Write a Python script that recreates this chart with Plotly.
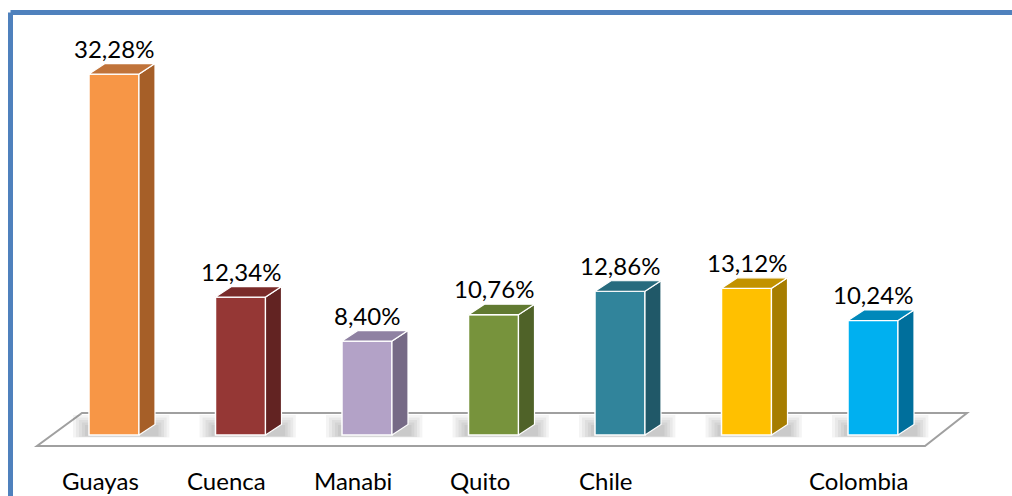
import plotly.graph_objects as go

# data
categorias = ["Guayas", "Cuenca", "Manabi", "Quito", "Chile", "", "Colombia"]
valores = [32.28, 12.34, 8.40, 10.76, 12.86, 13.12, 10.24]
etiquetas = ["32,28%", "12,34%", "8,40%", "10,76%", "12,86%", "13,12%", "10,24%"]
color_frente = ["#F79646", "#953735", "#B3A2C7", "#77933C", "#31849B", "#FFC000", "#00B0F0"]
color_lado = ["#A65F28", "#622322", "#766A86", "#4F6228", "#205868", "#A67D00", "#006F9C"]
color_tapa = ["#C0733A", "#7A2B2A", "#8F81A2", "#617A31", "#276B7E", "#C29200", "#0088BA"]

W, H = 1012, 496
px_x = 126.5          # px per category
px_y = 11.18          # px per percent
x0_px, y0_px = 114, 435

ancho = 50 / px_x     # front face width
dx = 16 / px_x        # depth offset
dy = 10.5 / px_y

x = list(range(len(valores)))

fig = go.Figure()

# front faces
fig.add_trace(go.Bar(
    x=x, y=valores, width=ancho,
    marker=dict(color=color_frente, line=dict(color="white", width=1.5)),
    hoverinfo="skip",
))

# side and top faces
for i, v in enumerate(valores):
    xr = i + ancho / 2
    xl = i - ancho / 2
    fig.add_trace(go.Scatter(
        x=[xr, xr + dx, xr + dx, xr, xr], y=[0, dy, v + dy, v, 0],
        fill="toself", fillcolor=color_lado[i], mode="lines",
        line=dict(color="white", width=1.2), hoverinfo="skip",
    ))
    fig.add_trace(go.Scatter(
        x=[xl, xr, xr + dx, xl + dx, xl], y=[v, v, v + dy, v + dy, v],
        fill="toself", fillcolor=color_tapa[i], mode="lines",
        line=dict(color="white", width=1.2), hoverinfo="skip",
    ))

# floor
fy0 = (y0_px - 446) / px_y
fy1 = (y0_px - 413) / px_y
fx = [(p - x0_px) / px_x for p in (37, 925, 967, 82)]
fig.add_shape(
    type="path",
    path=f"M {fx[0]},{fy0} L {fx[1]},{fy0} L {fx[2]},{fy1} L {fx[3]},{fy1} Z",
    xref="x", yref="y", layer="below",
    line=dict(color="#A0A0A0", width=2), fillcolor="white",
)

# soft shadows on the floor
for i in x:
    for k in range(5):
        ex = (16 - 3 * k) / px_x
        fig.add_shape(
            type="rect", xref="x", yref="y", layer="below",
            x0=i - ancho / 2 - ex, x1=i + ancho / 2 + dx + ex * 0.9,
            y0=-(2.5 - 0.3 * k) / px_y, y1=(20 - 2.5 * k) / px_y,
            fillcolor="rgba(0,0,0,0.045)", line=dict(width=0),
        )

# value labels
for i, v in enumerate(valores):
    fig.add_annotation(x=i, y=v + dy, text=etiquetas[i], showarrow=False,
                       yanchor="bottom", yshift=-1,
                       font=dict(family="Lato", size=24, color="black"))

# category labels
for i, c in enumerate(categorias):
    if c:
        fig.add_annotation(x=i - 0.11, y=(y0_px - 480) / px_y, text=c,
                           showarrow=False, yanchor="middle",
                           font=dict(family="Lato", size=24, color="black"))

# blue frame
fig.add_shape(type="line", xref="paper", yref="paper",
              x0=10.5 / W, x1=1.02, y0=1 - 12.5 / H, y1=1 - 12.5 / H,
              line=dict(color="#4F81BD", width=5))
fig.add_shape(type="line", xref="paper", yref="paper",
              x0=10.5 / W, x1=10.5 / W, y0=-0.02, y1=1 - 12.5 / H,
              line=dict(color="#4F81BD", width=5))

fig.update_layout(
    width=W, height=H,
    margin=dict(l=0, r=0, t=0, b=0),
    paper_bgcolor="white", plot_bgcolor="white",
    showlegend=False,
    xaxis=dict(range=[-x0_px / px_x, (W - x0_px) / px_x], visible=False, fixedrange=True),
    yaxis=dict(range=[(y0_px - H) / px_y, y0_px / px_y], visible=False, fixedrange=True),
)

fig.write_html("out.html", config={"displayModeBar": False},
               post_script="document.body.style.margin='0';document.body.style.overflow='hidden';")
